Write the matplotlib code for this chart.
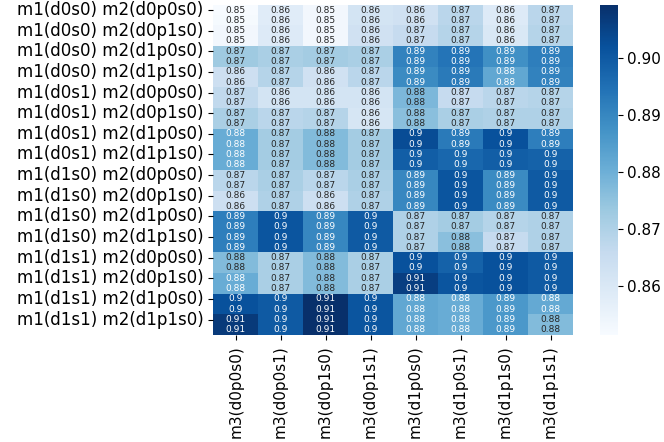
import numpy as np
import pandas as pd
import matplotlib
matplotlib.use('Agg')
import matplotlib.pyplot as plt
import seaborn as sns

#%% Labels
m1_cfg = ['d0s0', 'd0s1', 'd1s0', 'd1s1']
m2_cfg = ['d0p0s0', 'd0p0s1', 'd0p1s0', 'd0p1s1', 'd1p0s0', 'd1p0s1', 'd1p1s0', 'd1p1s1']
m3_cfg = ['d0p0s0', 'd0p0s1', 'd0p1s0', 'd0p1s1', 'd1p0s0', 'd1p0s1', 'd1p1s0', 'd1p1s1']

#%% Scores (rows = m2 config, cols = m3 config), one block per m1 config
scores_d0s0 = [
    [0.8514, 0.858, 0.853, 0.862, 0.863, 0.868, 0.859, 0.868],
    [0.852, 0.858, 0.853, 0.862, 0.863, 0.868, 0.859, 0.868],
    [0.853, 0.859, 0.853, 0.863, 0.866, 0.869, 0.860, 0.869],
    [0.853, 0.859, 0.853, 0.863, 0.866, 0.869, 0.860, 0.869],
    [0.873, 0.871, 0.872, 0.871, 0.891, 0.894, 0.888, 0.892],
    [0.873, 0.871, 0.872, 0.871, 0.891, 0.894, 0.888, 0.892],
    [0.864, 0.869, 0.863, 0.868, 0.889, 0.893, 0.882, 0.891],
    [0.864, 0.869, 0.863, 0.868, 0.889, 0.893, 0.882, 0.891],
]
scores_d0s1 = [
    [0.867, 0.862, 0.862, 0.862, 0.878, 0.866, 0.868, 0.869],
    [0.867, 0.862, 0.862, 0.862, 0.878, 0.866, 0.868, 0.869],
    [0.871, 0.868, 0.869, 0.861, 0.876, 0.871, 0.870, 0.870],
    [0.871, 0.868, 0.869, 0.861, 0.876, 0.871, 0.870, 0.870],
    [0.881, 0.872, 0.877, 0.872, 0.903, 0.893, 0.902, 0.892],
    [0.881, 0.872, 0.877, 0.872, 0.903, 0.893, 0.902, 0.892],
    [0.881, 0.872, 0.877, 0.872, 0.899, 0.897, 0.899, 0.898],
    [0.881, 0.872, 0.877, 0.872, 0.899, 0.897, 0.899, 0.898],
]
scores_d1s0 = [
    [0.868, 0.871, 0.868, 0.871, 0.890, 0.901, 0.889, 0.900],
    [0.868, 0.871, 0.868, 0.871, 0.890, 0.901, 0.889, 0.900],
    [0.864, 0.870, 0.864, 0.870, 0.890, 0.901, 0.889, 0.900],
    [0.864, 0.870, 0.864, 0.870, 0.890, 0.901, 0.889, 0.900],
    [0.892, 0.901, 0.890, 0.900, 0.870, 0.872, 0.869, 0.870],
    [0.892, 0.901, 0.890, 0.900, 0.870, 0.872, 0.869, 0.870],
    [0.892, 0.901, 0.890, 0.900, 0.870, 0.876, 0.866, 0.870],
    [0.892, 0.901, 0.890, 0.900, 0.870, 0.876, 0.866, 0.870],
]
scores_d1s1 = [
    [0.877, 0.871, 0.877, 0.871, 0.902, 0.898, 0.902, 0.900],
    [0.877, 0.871, 0.877, 0.871, 0.902, 0.898, 0.902, 0.900],
    [0.881, 0.871, 0.877, 0.871, 0.906, 0.901, 0.902, 0.900],
    [0.881, 0.871, 0.877, 0.871, 0.906, 0.901, 0.902, 0.900],
    [0.902, 0.900, 0.9093, 0.901, 0.882, 0.881, 0.886, 0.8815],
    [0.902, 0.900, 0.9093, 0.901, 0.882, 0.881, 0.886, 0.8815],
    [0.907, 0.900, 0.9093, 0.901, 0.882, 0.881, 0.886, 0.877],
    [0.907, 0.900, 0.9093, 0.901, 0.882, 0.881, 0.886, 0.877],
]

#%% Build table
rows = [f'm1({a}) m2({b})' for a in m1_cfg for b in m2_cfg]
cols = [f'm3({c})' for c in m3_cfg]
data = np.vstack([scores_d0s0, scores_d0s1, scores_d1s0, scores_d1s1])
df = pd.DataFrame(data, index=rows, columns=cols)

#%% Plot
fig = plt.figure(figsize=(6.64, 4.42), dpi=100)
ax = fig.add_axes([0.321, 0.242, 0.542, 0.747])
cax = fig.add_axes([0.904, 0.242, 0.026, 0.747])

sns.heatmap(df, ax=ax, cbar_ax=cax, cmap='Blues', annot=True,
            annot_kws={'size': 6.5}, yticklabels=2)
ax.tick_params(axis='x', labelsize=11)
ax.tick_params(axis='y', labelsize=12)
cax.tick_params(labelsize=11)

fig.savefig('out.png', dpi=100)
plt.close(fig)
